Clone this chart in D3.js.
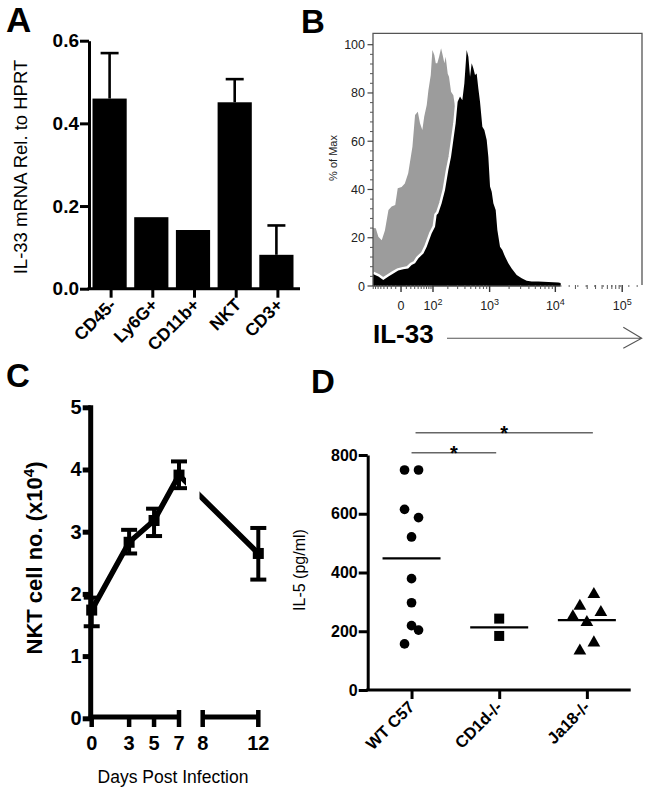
<!DOCTYPE html>
<html><head><meta charset="utf-8">
<script src="https://cdn.jsdelivr.net/npm/d3@7"></script>
<style>
html,body{margin:0;padding:0;background:#fff;}
svg{display:block;}
</style></head><body>
<svg id="fig" width="649" height="795"></svg>
<script>
// ---------- Panel A data ----------
const aCategories = ["CD45-", "Ly6G+", "CD11b+", "NKT", "CD3+"];
const aValues = [0.46, 0.173, 0.142, 0.451, 0.082];
const aErrUp = [0.11, 0, 0, 0.056, 0.071];
const aTicks = [0, 0.2, 0.4, 0.6];
const aTickLabels = ["0.0", "0.2", "0.4", "0.6"];

// ---------- Panel B data (flow histograms, % of max) ----------
const bGrayX = [-81,-69,-59,-47,-37,-27,-19,-11,-6,1,7,14,24,31,39,46,54,61,71,78,89,97,107,115,124,135,148,159,172,182,199,210,229,252,270,297,330,430,600,900,1300,2000,3000];
const bGrayY = [24,23.9,20.4,19,23,31.5,32.9,33.6,40.5,41,42.5,46.7,57.7,70.9,72.2,67.4,64.6,70.2,75,81,87.4,97.8,95.7,92.3,92.3,95,98.5,95.7,92.3,95,88,86.7,80.5,79,74.3,71.5,62,45,28,12,4,1,0];
const bBlackX = [-81,-72,-59,-42,-27,-15,-5,4,14,22,31,41,58,71,93,111,120,130,152,177,204,229,252,277,300,330,361,391,427,456,486,517,550,586,623,663,705,768,826,900,955,1015,1078,1144,1244,1320,1451,1576,1733,1949,2192,2612,3112,3705,4410,5555,7850,11100,12000,12100];
const bBlackY = [5,4.6,3.9,2.5,3.9,5.2,6.4,6.9,7.3,8.7,9.4,11.5,13.5,16.3,21.8,24.6,29.4,30.1,34.3,39.8,48,53.6,60.5,67.4,76.4,78.5,77,84,97.8,95,86.7,92.3,90.2,87.4,88.1,81.9,76.4,66,64.6,60.5,53.6,41.2,39.1,34.3,31.5,23.2,16.3,14.9,12.2,9.4,7.3,4.6,3.2,2.2,1.9,1.9,1.7,1.4,1.2,0];
const bYTicks = [0, 20, 40, 60, 80, 100];
const bXTicks = [0, 100, 1000, 10000, 100000];
const bXTickBase = ["0", "10", "10", "10", "10"];
const bXTickExp = ["", "2", "3", "4", "5"];

// ---------- Panel C data ----------
const cDays = [0, 3, 5, 7, 12];
const cMeans = [1.74, 2.83, 3.18, 3.91, 2.65];
const cLow = [1.48, 2.65, 2.93, 3.70, 2.23];
const cHigh = [1.94, 3.03, 3.37, 4.13, 3.06];
const cXTicks = [0, 3, 5, 7, 8, 12];
const cYTicks = [0, 1, 2, 3, 4, 5];

// ---------- Panel D data ----------
const dGroups = ["WT C57", "CD1d-/-", "Ja18-/-"];
const dWT = [749, 749, 615, 587, 521, 379, 297, 219, 204, 157];
const dWTJitter = [-1, 1, -1, 1, 0, 0, 0, 0, 1, -1];
const dCD1d = [243, 184];
const dCD1dJitter = [0, 0];
const dJa18 = [326, 286, 264, 250, 230, 161, 133];
const dJa18Jitter = [1, -1, 2, -2, 0, 1, -1];
const dMeans = [448, 213, 238];
const dYTicks = [0, 200, 400, 600, 800];
const dSigPairs = [[0, 1], [0, 2]];
const dSigLevels = [808, 876];

// ---------- drawing ----------
const FONT = '"Liberation Sans", Arial, Helvetica, sans-serif';
const svg = d3.select("#fig").style("font-family", FONT);
svg.append("rect").attr("width", 649).attr("height", 795).attr("fill", "#fff");

function styleAxis(g, lw, fs, weight, color) {
  g.attr("font-family", null).attr("font-size", null);
  g.select(".domain").attr("stroke", color || "#000").attr("stroke-width", lw);
  g.selectAll(".tick line").attr("stroke", color || "#000").attr("stroke-width", lw);
  g.selectAll(".tick text").attr("fill", "#000")
    .style("font-size", fs + "px").style("font-weight", weight).style("font-family", FONT);
}
function panelLetter(x, y, t, fs) {
  svg.append("text").attr("x", x).attr("y", y).text(t)
    .style("font-size", fs + "px").style("font-weight", "bold").attr("fill", "#000");
}

// ===== Panel A =====
panelLetter(6, 32, "A", 35);
const xA = d3.scaleBand().domain(aCategories).range([89, 300]).paddingInner(0.18).paddingOuter(0.12);
const yA = d3.scaleLinear().domain([0, 0.6]).range([288.7, 40.7]);
const gA = svg.append("g");
gA.selectAll("rect.bar").data(aValues).join("rect")
  .attr("x", (d, i) => xA(aCategories[i]) - 1.5)
  .attr("width", xA.bandwidth())
  .attr("y", d => yA(d)).attr("height", d => yA(0) - yA(d)).attr("fill", "#000");
const aErrIdx = aErrUp.map((e, i) => i).filter(i => aErrUp[i] > 0);
aErrIdx.forEach(i => {
  const cx = xA(aCategories[i]) - 1.5 + xA.bandwidth() / 2;
  gA.append("line").attr("x1", cx).attr("x2", cx).attr("y1", yA(aValues[i])).attr("y2", yA(aValues[i] + aErrUp[i]))
    .attr("stroke", "#000").attr("stroke-width", 2.6);
  gA.append("line").attr("x1", cx - 9).attr("x2", cx + 9).attr("y1", yA(aValues[i] + aErrUp[i])).attr("y2", yA(aValues[i] + aErrUp[i]))
    .attr("stroke", "#000").attr("stroke-width", 2.6);
});
const axAy = gA.append("g").attr("transform", "translate(89,0)")
  .call(d3.axisLeft(yA).tickValues(aTicks).tickFormat((d, i) => aTickLabels[i]).tickSize(9).tickSizeOuter(0).tickPadding(1));
styleAxis(axAy, 3, 19, "bold");
const axAx = gA.append("g").attr("transform", "translate(0,288.7)")
  .call(d3.axisBottom(xA).tickSize(9).tickSizeOuter(0).tickFormat(""));
styleAxis(axAx, 3, 16, "bold");
axAx.select(".domain").attr("d", "M87.5,0H300");
aCategories.forEach((c, i) => {
  const cx = xA(c) + xA.bandwidth() / 2;
  gA.append("text").attr("transform", `translate(${cx + 6},${306}) rotate(-45)`)
    .attr("text-anchor", "end").text(c)
    .style("font-size", "17.5px").style("font-weight", "bold");
});
gA.append("text").attr("transform", `translate(27,167) rotate(-90)`).attr("text-anchor", "middle")
  .text("IL-33 mRNA Rel. to HPRT").style("font-size", "18.5px");

// ===== Panel B =====
panelLetter(301, 33, "B", 33);
const xB = d3.scaleSymlog().constant(50).domain([-81, 197500]).range([373, 642]);
const yB = d3.scaleLinear().domain([0, 100]).range([286, 44.7]);
const gB = svg.append("g");
gB.append("clipPath").attr("id", "clipB").append("rect").attr("x", 373).attr("y", 33).attr("width", 269).attr("height", 253);
const areaB = d3.area().x(d => xB(d[0])).y0(yB(0)).y1(d => yB(d[1]));
const lineB = d3.line().x(d => xB(d[0])).y(d => yB(d[1]));
const grayData = d3.zip(bGrayX, bGrayY);
const blackData = d3.zip(bBlackX, bBlackY);
const hist = gB.append("g").attr("clip-path", "url(#clipB)");
hist.append("path").attr("d", areaB(grayData)).attr("fill", "#9c9c9c");
hist.append("path").attr("d", lineB(blackData)).attr("fill", "none").attr("stroke", "#fff").attr("stroke-width", 5).attr("stroke-linejoin", "round");
hist.append("path").attr("d", areaB(blackData)).attr("fill", "#000");
// frame
gB.append("path").attr("d", "M373,286V33.3H642V285").attr("fill", "none").attr("stroke", "#555").attr("stroke-width", 1.3);
gB.append("line").attr("x1", 373).attr("x2", 560).attr("y1", 286).attr("y2", 286).attr("stroke", "#444").attr("stroke-width", 1.3);
gB.append("line").attr("x1", 560).attr("x2", 642).attr("y1", 286).attr("y2", 286).attr("stroke", "#777").attr("stroke-width", 1.3).attr("stroke-dasharray", "1.5,7");
// y ticks
const bYMinor = d3.range(0, 101, 4).filter(v => v % 20 !== 0);
gB.selectAll("line.ymin").data(bYMinor).join("line").attr("x1", 370).attr("x2", 373)
  .attr("y1", d => yB(d)).attr("y2", d => yB(d)).attr("stroke", "#555").attr("stroke-width", 1);
gB.selectAll("line.ymaj").data(bYTicks).join("line").attr("x1", 367.5).attr("x2", 373)
  .attr("y1", d => yB(d)).attr("y2", d => yB(d)).attr("stroke", "#444").attr("stroke-width", 1.2);
gB.selectAll("text.ylab").data(bYTicks).join("text").attr("x", 365).attr("y", d => yB(d)).attr("dy", "0.36em")
  .attr("text-anchor", "end").text(d => d).style("font-size", "12.5px").attr("fill", "#222");
// x ticks
const bXMinor = [].concat(d3.range(-80, 0, 10), d3.range(10, 100, 10), d3.range(200, 1000, 100),
  d3.range(2000, 10000, 1000), d3.range(20000, 100000, 10000));
gB.selectAll("line.xmin").data(bXMinor).join("line").attr("x1", d => xB(d)).attr("x2", d => xB(d))
  .attr("y1", 285).attr("y2", 289).attr("stroke", "#555").attr("stroke-width", 1);
gB.selectAll("line.xmaj").data(bXTicks).join("line").attr("x1", d => xB(d)).attr("x2", d => xB(d))
  .attr("y1", 285).attr("y2", 292).attr("stroke", "#333").attr("stroke-width", 1.4);
const xl = gB.selectAll("text.xlab").data(bXTicks).join("text")
  .attr("x", d => xB(d)).attr("y", 310).attr("text-anchor", "middle")
  .style("font-size", "12.5px").attr("fill", "#222");
xl.append("tspan").text((d, i) => bXTickBase[i]);
xl.append("tspan").attr("dy", -5).style("font-size", "9px").text((d, i) => bXTickExp[i]);
gB.append("text").attr("transform", "translate(337,158) rotate(-90)").attr("text-anchor", "middle")
  .text("% of Max").style("font-size", "11px").attr("fill", "#222");
gB.append("text").attr("x", 373).attr("y", 343).text("IL-33").style("font-size", "26px").style("font-weight", "bold");
gB.append("path").attr("d", "M447,338.3H641.5M623.3,327.3L641.7,338.3L623.3,348.3")
  .attr("fill", "none").attr("stroke", "#555").attr("stroke-width", 1.1);

// ===== Panel C =====
panelLetter(6, 387, "C", 33);
const xC = d3.scaleLinear().domain([0, 7, 8, 12]).range([91.7, 179, 202.7, 258.3]);
const yC = d3.scaleLinear().domain([0, 5]).range([718.3, 407.3]);
const gC = svg.append("g");
const axCy = gC.append("g").attr("transform", "translate(90.7,0)")
  .call(d3.axisLeft(yC).tickValues(cYTicks).tickFormat(d3.format("d")).tickSize(8).tickSizeOuter(0).tickPadding(1));
styleAxis(axCy, 5, 20, "bold");
axCy.select(".domain").attr("d", `M0,${yC(0) + 2}V${yC(5) - 2}`);
// broken x axis
const cY0 = 717;
gC.append("line").attr("x1", xC(0) - 3).attr("x2", xC(7) + 1).attr("y1", cY0).attr("y2", cY0).attr("stroke", "#000").attr("stroke-width", 5);
gC.append("line").attr("x1", xC(8) - 1).attr("x2", xC(12) + 1).attr("y1", cY0).attr("y2", cY0).attr("stroke", "#000").attr("stroke-width", 5);
const cEnds = [7, 8, 12];
gC.selectAll("line.ct").data(cXTicks).join("line")
  .attr("x1", d => xC(d)).attr("x2", d => xC(d))
  .attr("y1", d => cEnds.includes(d) ? cY0 - 7 : cY0).attr("y2", cY0 + 10)
  .attr("stroke", "#000").attr("stroke-width", 4.5);
gC.selectAll("text.ctl").data(cXTicks).join("text")
  .attr("x", d => xC(d)).attr("y", 750).attr("text-anchor", "middle").text(d => d)
  .style("font-size", "20px").style("font-weight", "bold");
// line with gap
gC.append("clipPath").attr("id", "clipC").selectAll("rect").data([[0, 186], [199.5, 649]]).join("rect")
  .attr("x", d => d[0]).attr("width", d => d[1] - d[0]).attr("y", 380).attr("height", 400);
const lineC = d3.line().x(d => xC(d[0])).y(d => yC(d[1]));
gC.append("path").attr("d", lineC(d3.zip(cDays, cMeans))).attr("clip-path", "url(#clipC)")
  .attr("fill", "none").attr("stroke", "#000").attr("stroke-width", 5.5).attr("stroke-linejoin", "round");
cDays.forEach((d, i) => {
  const cx = xC(d);
  gC.append("line").attr("x1", cx).attr("x2", cx).attr("y1", yC(cLow[i])).attr("y2", yC(cHigh[i])).attr("stroke", "#000").attr("stroke-width", 4);
  [cLow[i], cHigh[i]].forEach(v => gC.append("line").attr("x1", cx - 8).attr("x2", cx + 8).attr("y1", yC(v)).attr("y2", yC(v)).attr("stroke", "#000").attr("stroke-width", 4));
  gC.append("rect").attr("x", cx - 5.5).attr("y", yC(cMeans[i]) - 5.5).attr("width", 11).attr("height", 11).attr("fill", "#000");
});
gC.append("text").attr("x", 173).attr("y", 783).attr("text-anchor", "middle").text("Days Post Infection").style("font-size", "17.5px");
const cyl = gC.append("text").attr("transform", "translate(42,558) rotate(-90)").attr("text-anchor", "middle")
  .style("font-size", "22px").style("font-weight", "bold");
cyl.append("tspan").text("NKT cell no. (x10");
cyl.append("tspan").attr("dy", -8).style("font-size", "15px").text("4");
cyl.append("tspan").attr("dy", 8).text(")");

// ===== Panel D =====
panelLetter(311, 393, "D", 33);
const xD = d3.scalePoint().domain(dGroups).range([367.7, 630.7]).padding(0.5);
const yD = d3.scaleLinear().domain([0, 800]).range([690, 455]);
const gD = svg.append("g");
const axDy = gD.append("g").attr("transform", "translate(367.7,0)")
  .call(d3.axisLeft(yD).tickValues(dYTicks).tickSize(9).tickSizeOuter(0).tickPadding(1));
styleAxis(axDy, 3, 16, "bold");
const axDx = gD.append("g").attr("transform", "translate(0,690)")
  .call(d3.axisBottom(xD).tickSize(9).tickSizeOuter(0).tickFormat(""));
styleAxis(axDx, 3, 15, "bold");
axDx.select(".domain").attr("d", "M366.2,0H630.7");
dGroups.forEach(g => {
  gD.append("text").attr("transform", `translate(${xD(g) + 4},${708}) rotate(-45)`)
    .attr("text-anchor", "end").text(g).style("font-size", "16.5px").style("font-weight", "bold");
});
const JIT = 7;
const groupsD = [[dWT, dWTJitter, d3.symbolCircle, 74], [dCD1d, dCD1dJitter, d3.symbolSquare, 100], [dJa18, dJa18Jitter, d3.symbolTriangle, 70]];
groupsD.forEach(([vals, jit, sym, size], gi) => {
  gD.selectAll(null).data(vals).join("path")
    .attr("d", d3.symbol(sym, size)())
    .attr("transform", (d, i) => `translate(${xD(dGroups[gi]) + jit[i] * JIT},${yD(d)})`)
    .attr("fill", "#000");
});
gD.selectAll("line.mean").data(dMeans).join("line")
  .attr("x1", (d, i) => xD(dGroups[i]) - 29).attr("x2", (d, i) => xD(dGroups[i]) + 29)
  .attr("y1", d => yD(d)).attr("y2", d => yD(d)).attr("stroke", "#000").attr("stroke-width", 2.2);
dSigPairs.forEach(([a, b], k) => {
  const x1 = xD(dGroups[a]) + (k === 0 ? 0 : 4);
  const x2 = xD(dGroups[b]) + (k === 0 ? -3 : 6);
  const yy = yD(dSigLevels[k]);
  gD.append("line").attr("x1", x1).attr("x2", x2).attr("y1", yy).attr("y2", yy).attr("stroke", "#666").attr("stroke-width", 1.5);
  gD.append("text").attr("x", (x1 + x2) / 2).attr("y", yy + 7).attr("text-anchor", "middle").text("*")
    .style("font-size", "20px").style("font-weight", "bold");
});
gD.append("text").attr("transform", "translate(305,570) rotate(-90)").attr("text-anchor", "middle")
  .text("IL-5 (pg/ml)").style("font-size", "16px");
</script>
</body></html>
